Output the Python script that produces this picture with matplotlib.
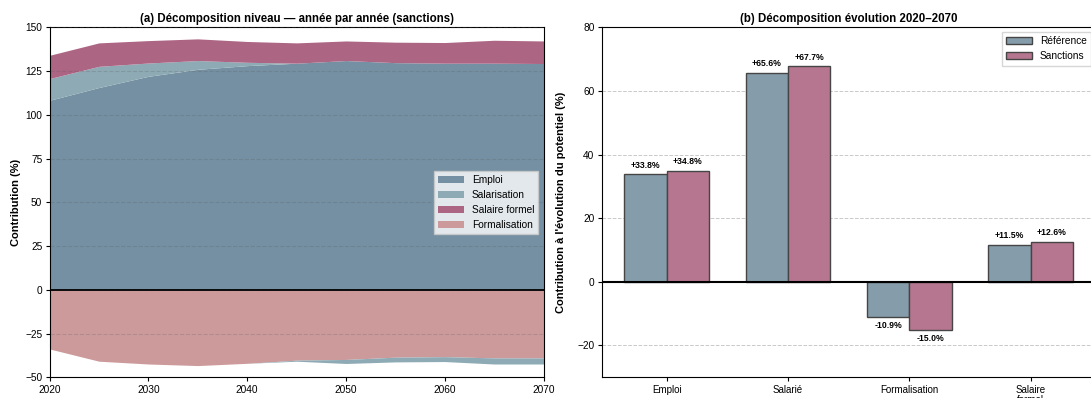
import matplotlib
matplotlib.use("Agg")
import matplotlib.pyplot as plt
import numpy as np

plt.rcParams['font.family'] = ['Liberation Sans', 'DejaVu Sans']

# ---- Panel (a) data: level decomposition (sanctions) ----
years = [2020, 2025, 2030, 2035, 2040, 2045, 2050, 2055, 2060, 2065, 2070]
emploi = [108.3, 115.6, 122.0, 126.0, 128.1, 129.5, 131.0, 129.8, 129.5, 129.5, 129.3]
salarisation = [12.4, 12.1, 7.6, 5.0, 1.9, -0.6, -2.3, -2.7, -2.8, -3.5, -3.5]
salaire_formel = [13.3, 13.4, 12.8, 12.4, 11.9, 11.6, 11.2, 11.7, 11.8, 13.1, 12.9]
formalisation = [-33.8, -40.8, -42.4, -43.3, -42.0, -40.2, -39.8, -38.5, -38.2, -38.9, -38.9]

# ---- Panel (b) data: change 2020-2070 ----
categories = ['Emploi', 'Salarié', 'Formalisation', 'Salaire\nformel']
reference = [33.8, 65.6, -10.9, 11.5]
sanctions = [34.8, 67.7, -15.0, 12.6]

c_emp = '#7590a2'
c_sal = '#8eaab4'
c_sf = '#ad6584'
c_form = '#cc9a9b'

TICK = 7.3
fig = plt.figure(figsize=(10.91, 3.98), dpi=100)
ax1 = fig.add_axes([0.0454, 0.052, 0.4528, 0.8794])
ax2 = fig.add_axes([0.5515, 0.052, 0.4528, 0.8794])

x = np.array(years, dtype=float)
e = np.array(emploi)
s = np.array(salarisation)
sf = np.array(salaire_formel)
fo = np.array(formalisation)
s_pos = np.clip(s, 0, None)
s_neg = np.clip(s, None, 0)

ax1.fill_between(x, 0, e, color=c_emp, lw=0, label='Emploi', zorder=2)
ax1.fill_between(x, e, e + s_pos, color=c_sal, lw=0, label='Salarisation', zorder=2)
ax1.fill_between(x, e + s_pos, e + s_pos + sf, color=c_sf, lw=0, label='Salaire formel', zorder=2)
ax1.fill_between(x, 0, fo, color=c_form, lw=0, label='Formalisation', zorder=2)
ax1.fill_between(x, fo, fo + s_neg, color=c_sal, lw=0, zorder=2)
ax1.axhline(0, color='black', lw=1.3, zorder=4)
ax1.set_xlim(2020, 2070)
ax1.set_ylim(-50, 150)
ax1.set_yticks(np.arange(-50, 151, 25))
ax1.set_xticks(np.arange(2020, 2071, 10))
ax1.grid(axis='y', ls='--', color='#555555', alpha=0.22, lw=0.8, zorder=3)
ax1.set_axisbelow(False)
ax1.set_ylabel('Contribution (%)', fontsize=8, fontweight='bold', labelpad=3)
ax1.set_title('(a) Décomposition niveau — année par année (sanctions)', fontsize=8.3, fontweight='bold', pad=4)
ax1.tick_params(labelsize=TICK, length=3.2, pad=2)
leg1 = ax1.legend(loc='center right', fontsize=7.3, frameon=True, fancybox=False, edgecolor='#cccccc', handlelength=2.5)
leg1.set_zorder(10)

xi = np.arange(len(categories))
w = 0.35
b1 = ax2.bar(xi - w/2, reference, w, color='#859dab', edgecolor='#454545', lw=1, label='Référence', zorder=3)
b2 = ax2.bar(xi + w/2, sanctions, w, color='#b6768f', edgecolor='#454545', lw=1, label='Sanctions', zorder=3)
for bars, vals in ((b1, reference), (b2, sanctions)):
    for b, v in zip(bars, vals):
        cx = b.get_x() + b.get_width()/2
        if v >= 0:
            ax2.text(cx, v + 1.5, f'+{v:.1f}%', ha='center', va='bottom', fontsize=6.2, fontweight='bold')
        else:
            ax2.text(cx, v - 1.5, f'{v:.1f}%', ha='center', va='top', fontsize=6.2, fontweight='bold')
ax2.axhline(0, color='black', lw=1.5, zorder=4)
ax2.set_ylim(-30, 80)
ax2.set_yticks([-20, 0, 20, 40, 60, 80])
ax2.set_xticks(xi)
ax2.set_xticklabels(categories, linespacing=1.0)
ax2.grid(axis='y', ls='--', color='#bbbbbb', alpha=0.8, lw=0.7, zorder=0)
ax2.set_axisbelow(True)
ax2.set_ylabel("Contribution à l'évolution du potentiel (%)", fontsize=8, fontweight='bold', labelpad=8)
ax2.set_title('(b) Décomposition évolution 2020–2070', fontsize=8.3, fontweight='bold', pad=4)
ax2.tick_params(labelsize=TICK, length=3.2, pad=2)
ax2.tick_params(axis='x', labelsize=7)
ax2.legend(loc='upper right', fontsize=7.3, frameon=True, fancybox=False, edgecolor='#cccccc', handlelength=2.5)

fig.savefig('out.png', dpi=100)
